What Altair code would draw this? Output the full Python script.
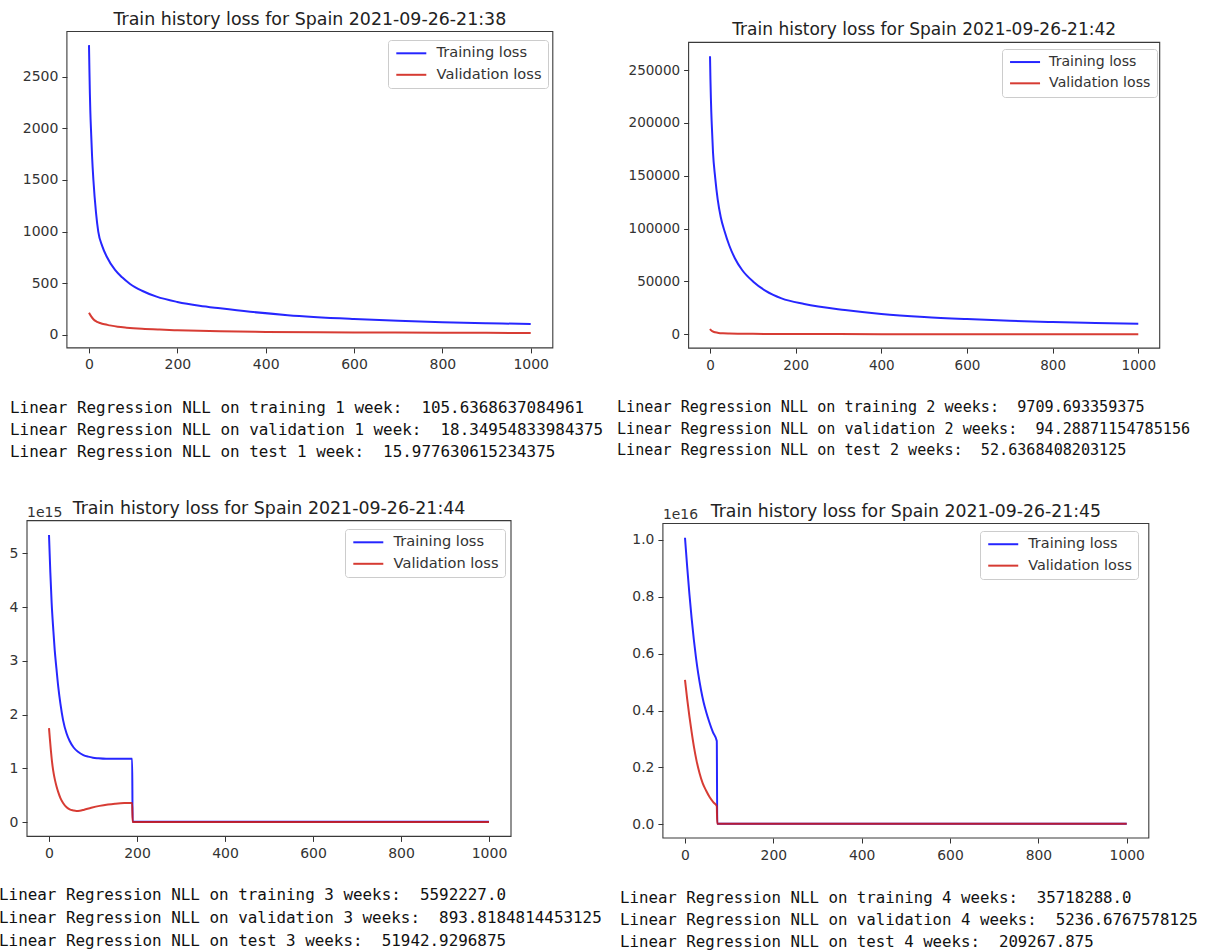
import altair as alt
import pandas as pd

W, H = 1212, 952
SERIES = ["Training loss", "Validation loss"]
COLORS = ["#0000ff", "#d01a10"]
XTICKS = [0, 200, 400, 600, 800, 1000]

# ---------------- data ----------------
# Panel 1 (1 week)
ep1_train = [0, 1, 2, 3, 5, 7, 10, 16, 21, 30, 40, 59, 75, 93, 120, 153, 200, 250, 297, 365, 450, 600, 700, 800, 900, 1000]
loss1_train = [2805, 2560, 2340, 2170, 1940, 1730, 1500, 1180, 1000, 860, 760, 630, 558, 494, 428, 371, 320, 283, 258, 225, 192, 155, 137, 123, 114, 106]
ep1_val = [0, 5, 10, 17, 25, 35, 47, 65, 85, 120, 160, 200, 297, 400, 600, 800, 1000]
loss1_val = [216, 180, 152, 130, 116, 103, 93, 80, 71, 60, 52, 46, 35, 30, 25, 22, 19]

# Panel 2 (2 weeks)
ep2_train = [0, 1, 2, 3, 4, 7, 12, 18, 25, 34, 45, 58, 75, 101, 130, 167, 220, 315, 400, 500, 600, 700, 800, 900, 1000]
loss2_train = [263000, 241000, 224000, 210000, 199500, 172000, 148500, 127500, 111000, 97500, 84000, 72000, 60800, 49750, 41100, 34050, 28700, 23000, 19300, 16400, 14400, 12800, 11650, 10700, 9900]
ep2_val = [0, 2, 5, 8, 12, 20, 30, 45, 70, 100, 150, 200, 300, 400, 600, 800, 1000]
loss2_val = [5000, 4000, 3000, 2400, 1900, 1300, 950, 700, 520, 420, 330, 270, 200, 160, 130, 110, 95]

# Panel 3 (3 weeks), in units of 1e15
ep3_train = [0, 3, 6, 10, 13, 17, 21, 26, 32, 40, 47, 56, 66, 78, 89, 100, 111, 130, 150, 170, 189, 190, 300, 500, 700, 1000]
loss3_train = [5.34, 4.65, 4.08, 3.55, 3.20, 2.85, 2.52, 2.20, 1.90, 1.65, 1.51, 1.39, 1.31, 1.25, 1.22, 1.20, 1.19, 1.18, 1.18, 1.18, 1.18, 0.01, 0.01, 0.01, 0.01, 0.01]
ep3_val = [0, 2, 4, 6, 8, 11, 14, 17, 21, 26, 32, 40, 47, 55, 62, 70, 80, 96, 115, 134, 150, 171, 189, 190, 300, 500, 700, 1000]
loss3_val = [1.75, 1.55, 1.36, 1.19, 1.05, 0.89, 0.77, 0.67, 0.56, 0.45, 0.36, 0.28, 0.24, 0.22, 0.21, 0.215, 0.235, 0.27, 0.305, 0.33, 0.345, 0.358, 0.36, 0.005, 0.005, 0.005, 0.005, 0.005]

# Panel 4 (4 weeks), in units of 1e16
ep4_train = [0, 5, 10, 15, 20, 25, 30, 36, 42, 48, 55, 63, 72, 73, 200, 400, 600, 800, 1000]
loss4_train = [1.008, 0.905, 0.81, 0.725, 0.65, 0.585, 0.53, 0.475, 0.43, 0.395, 0.36, 0.325, 0.293, 0.002, 0.002, 0.002, 0.002, 0.002, 0.002]
ep4_val = [0, 5, 10, 15, 20, 26, 33, 40, 48, 56, 64, 72, 73, 200, 400, 600, 800, 1000]
loss4_val = [0.508, 0.44, 0.38, 0.325, 0.275, 0.225, 0.18, 0.145, 0.118, 0.095, 0.078, 0.064, 0.002, 0.002, 0.002, 0.002, 0.002, 0.002]

titles = [
    "Train history loss for Spain 2021-09-26-21:38",
    "Train history loss for Spain 2021-09-26-21:42",
    "Train history loss for Spain 2021-09-26-21:44",
    "Train history loss for Spain 2021-09-26-21:45",
]
NB = "\u00a0"
reports = [
    ["Linear Regression NLL on training 1 week: " + NB + "105.6368637084961",
     "Linear Regression NLL on validation 1 week: " + NB + "18.34954833984375",
     "Linear Regression NLL on test 1 week: " + NB + "15.977630615234375"],
    ["Linear Regression NLL on training 2 weeks: " + NB + "9709.693359375",
     "Linear Regression NLL on validation 2 weeks: " + NB + "94.28871154785156",
     "Linear Regression NLL on test 2 weeks: " + NB + "52.6368408203125"],
    ["Linear Regression NLL on training 3 weeks: " + NB + "5592227.0",
     "Linear Regression NLL on validation 3 weeks: " + NB + "893.8184814453125",
     "Linear Regression NLL on test 3 weeks: " + NB + "51942.9296875"],
    ["Linear Regression NLL on training 4 weeks: " + NB + "35718288.0",
     "Linear Regression NLL on validation 4 weeks: " + NB + "5236.6767578125",
     "Linear Regression NLL on test 4 weeks: " + NB + "209267.875"],
]
yticks = [
    [0, 500, 1000, 1500, 2000, 2500],
    [0, 50000, 100000, 150000, 200000, 250000],
    [0, 1e15, 2e15, 3e15, 4e15, 5e15],
    [0, 0.2e16, 0.4e16, 0.6e16, 0.8e16, 1.0e16],
]
offset_texts = [None, None, "1e15", "1e16"]

# ---------------- layout (pixels) ----------------
panels = [
    dict(xr=[66.9, 552.8], yr=[347.9, 31.5], ydom=[-125, 2937], mult=1, k=1.0, tfs=17.4,
         label="format(datum.value, 'd')", legend=(388, 40), text=(10, 408), dy=22, off=None),
    dict(xr=[688.6, 1159.7], yr=[348.1, 42.4], ydom=[-13050, 276145], mult=1, k=0.965, tfs=17.0,
         label="format(datum.value, 'd')", legend=(1002, 49), text=(617, 407), dy=21.5, off=None),
    dict(xr=[27.0, 511.0], yr=[836.4, 520.6], ydom=[-0.262e15, 5.607e15], mult=1e15, k=1.0, tfs=17.4,
         label="format(datum.value / 1e15, 'd')", legend=(345, 529), text=(-1, 895), dy=22.8, off=(27, 513)),
    dict(xr=[662.9, 1148.8], yr=[838.0, 523.5], ydom=[-0.048e16, 1.058e16], mult=1e16, k=0.99, tfs=17.3,
         label="format(datum.value / 1e16, '.1f')", legend=(980, 531), text=(620, 898), dy=22, off=(663, 515)),
]
data_sets = [
    (ep1_train, loss1_train, ep1_val, loss1_val),
    (ep2_train, loss2_train, ep2_val, loss2_val),
    (ep3_train, loss3_train, ep3_val, loss3_val),
    (ep4_train, loss4_train, ep4_val, loss4_val),
]

FONT = "DejaVu Sans"
GRAY = "#333333"
layers = []
for i, (p, (et, lt, ev, lv)) in enumerate(zip(panels, data_sets)):
    m, k = p["mult"], p["k"]
    df = pd.DataFrame({
        "epoch": et + ev,
        "loss": [v * m for v in lt + lv],
        "series": [SERIES[0]] * len(et) + [SERIES[1]] * len(ev),
    })
    xscale = alt.Scale(domain=[-50, 1050], range=p["xr"], nice=False, zero=False)
    yscale = alt.Scale(domain=p["ydom"], range=p["yr"], nice=False, zero=False)

    frame = alt.Chart(pd.DataFrame({"k": [0]})).mark_rect(
        fillOpacity=0, stroke="#3a3a3a", strokeWidth=1.1
    ).encode(
        x=alt.datum(-50, scale=xscale, axis=None),
        x2=alt.datum(1050),
        y=alt.datum(p["ydom"][0], scale=yscale, axis=None),
        y2=alt.datum(p["ydom"][1]),
    )
    layers.append(frame)

    fs = 14 * k
    lines = alt.Chart(df).mark_line(strokeWidth=2, interpolate="monotone", opacity=0.85).encode(
        x=alt.X("epoch:Q", scale=xscale, axis=alt.Axis(
            orient="bottom", offset=p["yr"][0] - H, values=XTICKS, title=None,
            grid=False, domain=False, tickSize=5, tickColor=GRAY, tickWidth=1,
            labelColor=GRAY, labelFont=FONT, labelFontSize=fs, labelPadding=5,
            labelFlush=False, labelOverlap=False, format="d")),
        y=alt.Y("loss:Q", scale=yscale, axis=alt.Axis(
            orient="left", offset=-p["xr"][0], values=yticks[i], title=None,
            grid=False, domain=False, tickSize=5, tickColor=GRAY, tickWidth=1,
            labelColor=GRAY, labelFont=FONT, labelFontSize=fs, labelPadding=4,
            labelOverlap=False, labelExpr=p["label"])),
        color=alt.Color("series:N", scale=alt.Scale(domain=SERIES, range=COLORS),
                        legend=alt.Legend(
                            orient="none", legendX=p["legend"][0], legendY=p["legend"][1],
                            title=None, symbolType="M-1,0H5", symbolSize=100,
                            symbolStrokeWidth=2, symbolOpacity=0.85,
                            labelFont=FONT, labelFontSize=14.6 * k,
                            labelColor=GRAY, labelOffset=28 * k, padding=6,
                            rowPadding=6.5 * k, strokeColor="#cccccc",
                            fillColor="rgba(255,255,255,0.8)", cornerRadius=3)),
    )
    layers.append(lines)

    cx = (p["xr"][0] + p["xr"][1]) / 2
    title = alt.Chart(pd.DataFrame({"t": [titles[i]]})).mark_text(
        align="center", baseline="alphabetic", font=FONT, fontSize=p["tfs"], color="#222222"
    ).encode(x=alt.value(cx), y=alt.value(p["yr"][1] - 7), text="t:N")
    layers.append(title)

    if offset_texts[i]:
        off = alt.Chart(pd.DataFrame({"t": [offset_texts[i]]})).mark_text(
            align="left", baseline="middle", font=FONT, fontSize=fs, color=GRAY
        ).encode(x=alt.value(p["off"][0]), y=alt.value(p["off"][1]), text="t:N")
        layers.append(off)

    for j, line in enumerate(reports[i]):
        t = alt.Chart(pd.DataFrame({"t": [line]})).mark_text(
            align="left", baseline="middle", font="DejaVu Sans Mono",
            fontSize=15.9 * k * (0.985 if i == 1 else 1.0), color="#111111"
        ).encode(x=alt.value(p["text"][0]), y=alt.value(p["text"][1] + p["dy"] * j), text="t:N")
        layers.append(t)

chart = alt.layer(*layers).resolve_scale(
    x="independent", y="independent", color="independent"
).properties(
    width=W, height=H, autosize=alt.AutoSizeParams(type="none"), padding=0, background="white"
).configure_view(stroke=None)

chart.save("out.html", embed_options={"renderer": "svg", "actions": False})
